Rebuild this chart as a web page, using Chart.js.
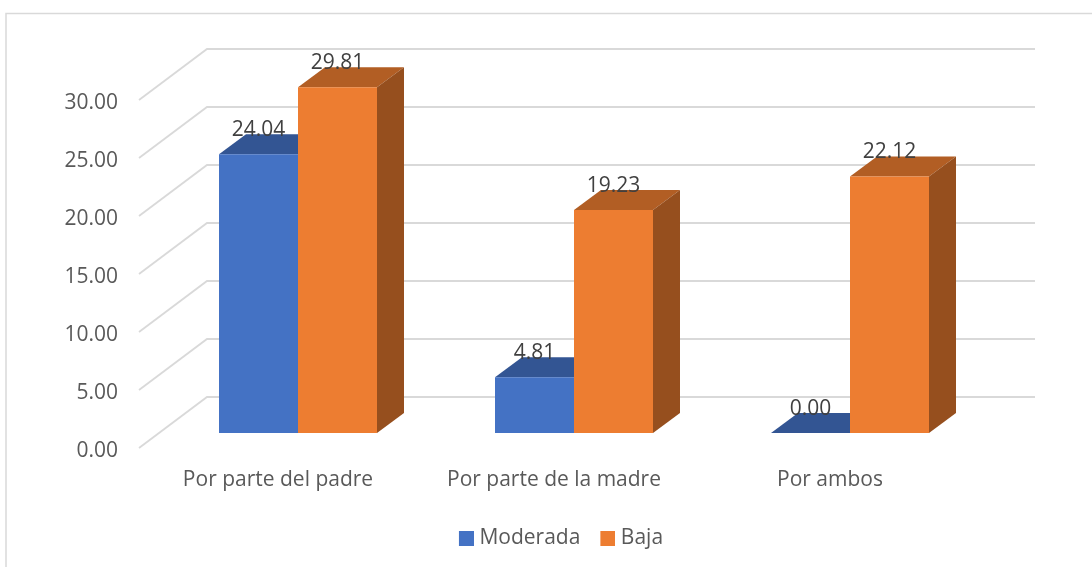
<!DOCTYPE html>
<html>
<head>
<meta charset="utf-8">
<script src="https://cdn.jsdelivr.net/npm/chart.js@4/dist/chart.umd.min.js"></script>
<style>html,body{margin:0;padding:0;background:#fff}canvas{display:block}</style>
</head>
<body>
<canvas id="c" width="1092" height="567"></canvas>
<script>
const categories = ["Por parte del padre", "Por parte de la madre", "Por ambos"];
const moderada = [24.04, 4.81, 0.00];
const baja = [29.81, 19.23, 22.12];
const yTicks = [0, 5, 10, 15, 20, 25, 30];

const FONT = '"Open Sans", sans-serif';
const FONT_SIZE = 21;
const DEPTH_X = 27, DEPTH_Y = 20;
const shades = [
  {top: '#335593', side: '#2b4a80'},
  {top: '#B25E24', side: '#964F1E'}
];

function swatch(color) {
  const cv = document.createElement('canvas');
  cv.width = 20; cv.height = 15;
  const g = cv.getContext('2d');
  g.fillStyle = color;
  g.fillRect(5, 0, 15, 15);
  return cv;
}

function poly(ctx, pts, fill) {
  ctx.beginPath();
  pts.forEach((p, i) => i ? ctx.lineTo(p[0], p[1]) : ctx.moveTo(p[0], p[1]));
  ctx.closePath();
  ctx.fillStyle = fill;
  ctx.fill();
}

const frame3d = {
  id: 'frame3d',
  afterLayout(chart) {
    const dx = 67, dy = -8;
    chart.legend.left += dx;
    chart.legend.right += dx;
    chart.legend.top += dy;
    chart.legend.bottom += dy;
  },
  beforeDraw(chart) {
    const ctx = chart.ctx;
    ctx.save();
    ctx.fillStyle = '#fff';
    ctx.fillRect(0, 0, chart.width, chart.height);
    ctx.strokeStyle = '#D9D9D9';
    ctx.lineWidth = 1.5;
    ctx.beginPath();
    ctx.moveTo(6, chart.height);
    ctx.lineTo(6, 13.5);
    ctx.lineTo(chart.width, 13.5);
    ctx.stroke();
    ctx.restore();
  },
  beforeDatasetsDraw(chart) {
    const ctx = chart.ctx;
    const y = chart.scales.y;
    const area = chart.chartArea;
    ctx.save();
    ctx.strokeStyle = '#D9D9D9';
    ctx.lineWidth = 1.8;
    yTicks.forEach(v => {
      const p = y.getPixelForValue(v);
      ctx.beginPath();
      ctx.moveTo(area.left - 21, p + 15);
      ctx.lineTo(area.left + 47, p - 36);
      ctx.lineTo(area.right + 47, p - 36);
      ctx.stroke();
    });
    chart.data.datasets.forEach((ds, i) => {
      chart.getDatasetMeta(i).data.forEach(bar => {
        const l = bar.x - bar.width / 2, r = bar.x + bar.width / 2;
        const t = bar.y, b = bar.base;
        poly(ctx, [[l, t], [r, t], [r + DEPTH_X, t - DEPTH_Y], [l + DEPTH_X, t - DEPTH_Y]], shades[i].top);
        if (b - t > 0) {
          poly(ctx, [[r, t], [r + DEPTH_X, t - DEPTH_Y], [r + DEPTH_X, b - DEPTH_Y], [r, b]], shades[i].side);
        }
      });
    });
    ctx.restore();
  },
  afterDatasetsDraw(chart) {
    const ctx = chart.ctx;
    ctx.save();
    ctx.font = FONT_SIZE + 'px ' + FONT;
    ctx.fillStyle = '#404040';
    ctx.textAlign = 'center';
    ctx.textBaseline = 'middle';
    chart.data.datasets.forEach((ds, i) => {
      chart.getDatasetMeta(i).data.forEach((bar, j) => {
        ctx.fillText(ds.data[j].toFixed(2), bar.x, bar.y - 24);
      });
    });
    ctx.restore();
  }
};

new Chart(document.getElementById('c'), {
  type: 'bar',
  data: {
    labels: categories,
    datasets: [
      {label: 'Moderada', data: moderada, backgroundColor: '#4472C4', pointStyle: swatch('#4472C4')},
      {label: 'Baja', data: baja, backgroundColor: '#ED7D31', pointStyle: swatch('#ED7D31')}
    ]
  },
  options: {
    responsive: false,
    animation: false,
    layout: {padding: {left: 0, right: 104, top: 85, bottom: 0}},
    datasets: {bar: {categoryPercentage: 158 / 276, barPercentage: 1, borderWidth: 0}},
    scales: {
      x: {
        grid: {display: false},
        border: {display: false},
        afterFit(s) { s.height = 567 - 433 - (s.chart.legend ? s.chart.legend.height : 0); },
        ticks: {
          font: {family: FONT, size: FONT_SIZE},
          color: '#595959',
          labelOffset: -20,
          padding: 26,
          autoSkip: false,
          maxRotation: 0
        }
      },
      y: {
        min: 0,
        max: 30,
        grid: {display: false},
        border: {display: false},
        afterFit(s) { s.width = 160; },
        afterBuildTicks(s) { s.ticks = yTicks.map(v => ({value: v})); },
        ticks: {
          font: {family: FONT, size: FONT_SIZE},
          color: '#595959',
          padding: 34,
          labelOffset: 18,
          callback: v => Number(v).toFixed(2)
        }
      }
    },
    plugins: {
      title: {display: false},
      tooltip: {enabled: false},
      legend: {
        position: 'bottom',
        labels: {
          font: {family: FONT, size: FONT_SIZE},
          color: '#595959',
          usePointStyle: true,
          boxWidth: 10,
          padding: 20
        }
      }
    }
  },
  plugins: [frame3d]
});
</script>
</body>
</html>
